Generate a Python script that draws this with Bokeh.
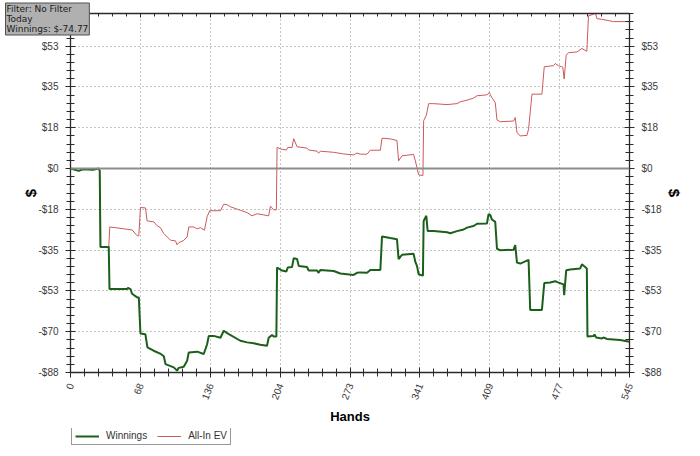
from bokeh.plotting import figure
from bokeh.models import (Range1d, LinearAxis, FixedTicker, Legend, LegendItem,
                          Span, Grid)
from bokeh.layouts import column
from bokeh.embed import file_html
from bokeh.resources import INLINE

# ---- data -------------------------------------------------------------
win_hands = [0, 8, 12, 22, 27.6, 28.5, 29.2, 37.3, 38, 55, 56, 58.5, 60, 65, 66.6,
             68.2, 73, 75, 81, 88, 91, 92.6, 100.7, 103.9, 105.5, 110.4, 113.7,
             115.3, 123.5, 129.9, 133.2, 134.8, 139.6, 146.2, 149.4, 152.7, 165.6,
             172.2, 178.6, 185.1, 191.6, 193.2, 196.5, 198.1, 200.7, 201.4, 206.3,
             210.5, 211.8, 216, 217.6, 220.9, 222.5, 230.6, 232.2, 240.4, 241.9,
             243.6, 256.6, 263.1, 269.6, 276, 279.3, 282.6, 289.1, 292.3, 302.1,
             303.7, 311.8, 318.3, 319.9, 323.2, 334.5, 336.2, 337.8, 339.4, 343.6,
             344.3, 346.9, 348.2, 354.1, 367.1, 370.3, 376.8, 383.3, 386.5, 393,
             396.3, 406, 407.6, 409.2, 410.9, 414.1, 415.8, 419, 432, 433.6, 435.3,
             438.5, 446.6, 448.2, 459.6, 461.9, 467.7, 472.6, 475.8, 480.7, 481.3,
             483.3, 487.2, 496.9, 498.6, 503.4, 504, 509.9, 510.9, 512.5, 518.1,
             519.6, 522.9, 535.9, 545]
win_vals = [0, -1, -0.3, -0.5, 0, -1, -33.8, -33.8, -52, -52, -51.5, -52, -54, -55.6,
            -55.6, -71.2, -71.5, -77.2, -78.6, -80, -81, -84.4, -85.8, -87.2, -86,
            -85.5, -82.9, -79.4, -79, -80, -75.8, -72.2, -72.2, -73, -70, -71, -74.3,
            -75, -75.4, -76, -76.5, -73, -71.8, -72.5, -72.5, -42.7, -44, -44.4,
            -42.7, -42.5, -38.7, -39, -42, -42.5, -44, -44, -45, -43.8, -44.2, -45.3,
            -45.6, -45.9, -45, -44.8, -45, -43.8, -43.8, -29.3, -30, -30.5, -39.1,
            -37.2, -36.8, -40.3, -42, -45.6, -46.2, -22.6, -20.4, -26.9, -26.9,
            -27.5, -27.9, -27, -26.3, -25.5, -24.8, -23.8, -23.7, -19.7, -20, -22,
            -23, -34.6, -35.3, -35, -33, -40.6, -41, -39.4, -61, -61, -49.4, -49.2,
            -48.6, -49.2, -50, -54.6, -43.9, -43.6, -43.1, -41.3, -43.1, -72.5,
            -72.3, -71.6, -72.9, -73.3, -72.9, -73.5, -74, -74.77]

ev_hands = [0, 8, 12, 22, 27.6, 28.5, 29.2, 37.3, 38.3, 55.2, 60.1, 65, 66.6, 68.2,
            73.1, 74.7, 81.2, 84.5, 87.7, 90.9, 97.4, 102.3, 103.9, 105.5, 110.4,
            113.7, 115.3, 120.2, 123.5, 126.7, 130.6, 133.2, 135.7, 146.2, 149.4,
            152.7, 155.9, 165.6, 172.2, 177, 181.9, 188.4, 193.2, 194.9, 198.1,
            200.7, 201.4, 206.3, 210.5, 211.8, 216, 217.6, 220.9, 230.6, 232.2,
            240.4, 241.9, 243.6, 256.6, 266.3, 276, 279.3, 282.6, 289.1, 292.3,
            302.1, 303.7, 311.8, 318.3, 319.9, 323.2, 334.5, 336.2, 337.8, 339.4,
            343.6, 344.3, 346.9, 349.2, 354.1, 367.1, 376.8, 380, 386.5, 393, 396.3,
            406, 408.3, 409.2, 410.9, 414.1, 415.8, 419, 432, 433.6, 435.3, 438.5,
            445, 446.6, 449.9, 459.6, 461.9, 470.9, 472.6, 475.8, 480, 481.3, 483.3,
            485.5, 493.7, 498.6, 503.4, 505, 509.9, 511.5, 513.2, 518.1, 529.4, 545]
ev_vals = [0, -1, -0.3, -0.5, 0, -1, -33.8, -33.8, -25.2, -26.2, -26.5, -29, -29,
           -16.8, -17, -22.6, -23, -24.7, -25.5, -28, -30.9, -31.2, -32.9, -32, -31,
           -29.5, -25.2, -25.2, -26, -25.5, -26.6, -20.8, -18.2, -18.2, -15.4,
           -15.6, -16.5, -18, -19, -20.4, -19.5, -20, -20.4, -16.2, -17.8, -17.8,
           9.1, 8.3, 8, 9.1, 9.1, 12.9, 9.4, 8.8, 8, 7.5, 6.6, 7.5, 7, 6.3, 5.9, 6.7,
           6.2, 6.2, 7.9, 7.9, 13.1, 12.8, 12.1, 3.3, 5.5, 6.1, 3.3, 0.4, -2.7, -3.0,
           20.6, 23, 28, 28, 27.6, 28, 28.8, 29.5, 30.4, 31.4, 31.8, 32.8, 32, 30.5,
           28.5, 21, 20.2, 20.5, 22, 15.5, 14.1, 14.3, 17, 32.1, 32.1, 43.9, 44.4,
           45.3, 44.4, 43.7, 38.6, 48.9, 50, 50.3, 51.8, 50.6, 65.9, 66.6, 67.5,
           64.7, 64.4, 63.4, 63.4]

x_ticks = [0, 68.125, 136.25, 204.375, 272.5, 340.625, 408.75, 476.875, 545]
x_labels = ["0", "68", "136", "204", "273", "341", "409", "477", "545"]
y_ticks = [-88, -70.4, -52.8, -35.2, -17.6, 0, 17.6, 35.2, 52.8]
y_labels = ["-$88", "-$70", "-$53", "-$35", "-$18", "$0", "$18", "$35", "$53"]
x_min, x_max = 0, 545
y_min, y_max = -88, 66.9

info_text = "Filter: No Filter\nToday\nWinnings: $-74.77"
series_names = ["Winnings", "All-In EV"]
series_colors = ["#1a601a", "#cc5a5a"]
series_widths = [2, 1]

# ---- main figure ------------------------------------------------------
FONT = "Liberation Sans"
TICK_COLOR = "#3a3a3a"
FW, FH = 559, 359

p = figure(width=700, height=428, output_backend="svg", toolbar_location=None,
           x_range=Range1d(x_min, x_max), y_range=Range1d(y_min, y_max),
           x_axis_location=None, y_axis_location=None,
           frame_width=FW, frame_height=FH,
           min_border_left=70, min_border_right=71, min_border_top=13,
           min_border_bottom=56)
p.outline_line_color = None
p.background_fill_color = "white"
p.border_fill_color = "white"

# info box drawn as the plot title (side panel, so it may overlap the frame)
p.title.text = info_text
p.title.align = "left"
p.title.vertical_align = "bottom"
p.title.offset = -65
p.title.standoff = -43
p.title.text_font = "DejaVu Sans"
p.title.text_font_size = "9px"
p.title.text_font_style = "normal"
p.title.text_color = "#202020"
p.title.text_line_height = 1.0
p.title.background_fill_color = "#b0b0b0"
p.title.border_line_color = "#505050"
p.title.border_line_width = 1
p.title.padding = 1

x_minor = [x_ticks[i] + (x_ticks[i + 1] - x_ticks[i]) * k / 5
           for i in range(len(x_ticks) - 1) for k in range(1, 5)]
y_minor = [y_ticks[i] + (y_ticks[i + 1] - y_ticks[i]) * k / 5
           for i in range(len(y_ticks) - 1) for k in range(1, 5)]
y_minor += [52.8 + 3.52 * k for k in range(1, 5)]
xt = FixedTicker(ticks=x_ticks, minor_ticks=x_minor)
yt = FixedTicker(ticks=y_ticks, minor_ticks=y_minor)


def style(ax):
    ax.axis_line_color = "#2a2a2a"
    ax.axis_line_width = 1.3
    ax.major_tick_line_color = "#2a2a2a"
    ax.minor_tick_line_color = "#2a2a2a"
    ax.major_tick_in = 5
    ax.major_tick_out = 5
    ax.minor_tick_in = 4
    ax.minor_tick_out = 4
    ax.major_label_text_font = FONT
    ax.major_label_text_font_size = "10px"
    ax.major_label_text_color = TICK_COLOR
    ax.axis_label_text_font = FONT
    ax.axis_label_text_font_style = "bold"
    ax.axis_label_text_color = "black"


for side, lab_standoff in (("left", -4), ("right", 1)):
    ax = LinearAxis(ticker=yt, axis_label="$")
    style(ax)
    ax.major_label_overrides = dict(zip(y_ticks, y_labels))
    ax.axis_label_text_font_size = "15px"
    ax.axis_label_standoff = lab_standoff
    ax.major_label_standoff = 7
    p.add_layout(ax, side)

bottom = LinearAxis(ticker=xt, axis_label="Hands")
style(bottom)
bottom.major_label_overrides = dict(zip(x_ticks, x_labels))
bottom.major_label_orientation = 1.2
bottom.axis_label_text_font_size = "13px"
bottom.axis_label_standoff = 4
bottom.major_label_standoff = 6
p.add_layout(bottom, "below")

top = LinearAxis(ticker=xt)
style(top)
top.major_tick_out = 0
top.minor_tick_out = 0
top.major_tick_in = 4
top.minor_tick_in = 3
top.major_label_text_font_size = "0px"
top.major_label_standoff = 0
p.add_layout(top, "above")

p.xgrid.visible = False
p.ygrid.visible = False
p.add_layout(Grid(dimension=0, ticker=xt, grid_line_color="#8a8a8a",
                  grid_line_dash="1 3", grid_line_width=1))
p.add_layout(Grid(dimension=1, ticker=yt, grid_line_color="#8a8a8a",
                  grid_line_dash="1 3", grid_line_width=1))

p.add_layout(Span(location=0, dimension="width", line_color="#8c8c8c",
                  line_width=2))

p.line(ev_hands, ev_vals, line_color=series_colors[1], line_width=series_widths[1])
p.line(win_hands, win_vals, line_color=series_colors[0], line_width=series_widths[0])

# ---- legend strip below the chart ------------------------------------
# (the series are re-drawn here outside the visible range, only so that the
#  legend can show their line styles)
lf = figure(width=700, height=28, output_backend="svg", toolbar_location=None,
            x_range=Range1d(10000, 10001), y_range=Range1d(10000, 10001),
            x_axis_location=None, y_axis_location=None,
            min_border_left=70, min_border_right=71, min_border_top=0,
            min_border_bottom=0)
lf.outline_line_color = None
lf.xgrid.visible = False
lf.ygrid.visible = False
lf.border_fill_color = "white"
lr = [lf.line(win_hands, win_vals, line_color=series_colors[0],
              line_width=series_widths[0]),
      lf.line(ev_hands, ev_vals, line_color=series_colors[1],
              line_width=series_widths[1])]
legend = Legend(items=[LegendItem(label=n, renderers=[r])
                       for n, r in zip(series_names, lr)],
                orientation="horizontal", location=(1, 11),
                label_text_font=FONT, label_text_font_size="10px",
                label_text_color="#333333",
                glyph_width=24, glyph_height=10, label_standoff=7,
                spacing=10, padding=3, margin=0,
                border_line_color="#333333", border_line_width=1,
                label_height=10)
lf.add_layout(legend)

layout = column(p, lf, spacing=0)
open("out.html", "w").write(file_html(layout, INLINE))
